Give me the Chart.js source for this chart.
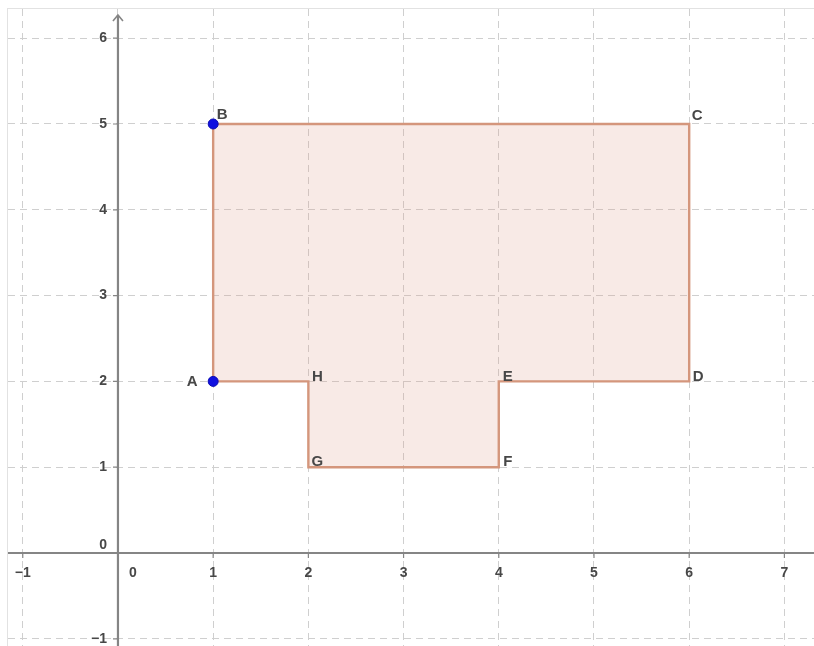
<!DOCTYPE html>
<html>
<head>
<meta charset="utf-8">
<script src="https://cdn.jsdelivr.net/npm/chart.js@4.4.1/dist/chart.umd.min.js"></script>
<style>
  html, body { margin: 0; padding: 0; background: #fff; }
  #frame { position: absolute; left: 7px; top: 8px; width: 807px; height: 638px;
           border-left: 1px solid #e2e2e2; border-top: 1px solid #e2e2e2; }
  #plot { position: absolute; left: 0; top: 0; }
</style>
</head>
<body>
<div id="frame"><canvas id="plot" width="806" height="637"></canvas></div>
<script>
/* ── Données ── */
const xTicks = [-1, 0, 1, 2, 3, 4, 5, 6, 7];
const yTicks = [-1, 0, 1, 2, 3, 4, 5, 6];
const vertexNames = ['A', 'B', 'C', 'D', 'E', 'F', 'G', 'H'];
const vertexX     = [1, 1, 6, 6, 4, 4, 2, 2];
const vertexY     = [2, 5, 5, 2, 2, 1, 1, 2];
const freePoints  = ['A', 'B'];

// ── Fenêtre (unités) ──
const X_MIN = -1.155, X_MAX = 7.311;
const Y_MIN = -1.084, Y_MAX = 6.34;

const polyData = vertexNames.map((n, i) => ({ x: vertexX[i], y: vertexY[i] }));
polyData.push({ x: vertexX[0], y: vertexY[0] });   // ferme le polygone

const pointData = freePoints.map(n => {
  const i = vertexNames.indexOf(n);
  return { x: vertexX[i], y: vertexY[i] };
});

// décalage des étiquettes (px)
const labelOffset = { A: [-21, 0], B: [9, -9], C: [8, -8] };

const AXIS_COLOR = '#858585';
const TEXT_COLOR = '#474747';

// ── Axes, graduations, étiquettes ──
const geoPlugin = {
  id: 'geo',
  afterDatasetsDraw(chart) {
    const { ctx, scales: { x, y }, chartArea: a } = chart;
    const x0 = x.getPixelForValue(0);
    const y0 = y.getPixelForValue(0);
    ctx.save();

    // axes
    ctx.strokeStyle = AXIS_COLOR;
    ctx.lineWidth = 2.2;
    ctx.beginPath();
    ctx.moveTo(a.left, y0);  ctx.lineTo(a.right, y0);
    ctx.moveTo(x0, a.bottom); ctx.lineTo(x0, a.top + 6);
    ctx.stroke();
    // flèche y
    ctx.lineWidth = 1.6;
    ctx.beginPath();
    ctx.moveTo(x0 - 5, a.top + 12); ctx.lineTo(x0, a.top + 6); ctx.lineTo(x0 + 5, a.top + 12);
    ctx.stroke();

    // petites graduations
    ctx.lineWidth = 1.2;
    ctx.beginPath();
    xTicks.forEach(v => { if (v !== 0) { const px = x.getPixelForValue(v); ctx.moveTo(px, y0); ctx.lineTo(px, y0 + 5); } });
    yTicks.forEach(v => { if (v !== 0) { const py = y.getPixelForValue(v); ctx.moveTo(x0, py); ctx.lineTo(x0 - 5, py); } });
    ctx.stroke();

    // étiquettes des axes
    ctx.fillStyle = TEXT_COLOR;
    ctx.font = 'bold 14px "Liberation Sans", Arial, sans-serif';
    ctx.textBaseline = 'middle';
    ctx.textAlign = 'center';
    xTicks.forEach(v => {
      const px = x.getPixelForValue(v) + (v === 0 ? 15 : 0);
      ctx.fillText(String(v).replace('-', '\u2212'), px, y0 + 20);
    });
    ctx.textAlign = 'right';
    yTicks.forEach(v => {
      const py = y.getPixelForValue(v) - (v === 0 ? 8 : 0);
      ctx.fillText(String(v).replace('-', '\u2212'), x0 - 11, py);
    });

    // noms des sommets
    ctx.textAlign = 'center';
    ctx.font = 'bold 15px "Liberation Sans", Arial, sans-serif';
    vertexNames.forEach((n, i) => {
      const off = labelOffset[n] || [9, -5];
      ctx.fillText(n, x.getPixelForValue(vertexX[i]) + off[0], y.getPixelForValue(vertexY[i]) + off[1]);
    });
    ctx.restore();
  },
};

function integerTicks(list) {
  return scale => { scale.ticks = list.map(v => ({ value: v })); };
}

new Chart(document.getElementById('plot'), {
  type: 'scatter',
  data: {
    datasets: [
      {
        data: polyData,
        showLine: true,
        fill: 'shape',
        borderColor: '#d4967c',
        backgroundColor: 'rgba(222, 160, 140, 0.22)',
        borderWidth: 2.4,
        pointRadius: 0,
        tension: 0,
        order: 2,
      },
      {
        data: pointData,
        showLine: false,
        pointRadius: 5,
        pointBackgroundColor: '#1010e0',
        pointBorderColor: '#0c0cb0',
        pointBorderWidth: 1,
        order: 1,
      },
    ],
  },
  options: {
    responsive: false,
    animation: false,
    devicePixelRatio: 1,
    layout: { padding: 0, autoPadding: false },
    plugins: { legend: { display: false }, tooltip: { enabled: false } },
    scales: {
      x: {
        type: 'linear', min: X_MIN, max: X_MAX,
        afterBuildTicks: integerTicks(xTicks),
        afterFit: s => { s.height = 0; },
        ticks: { display: false },
        grid: { color: '#cfcfcf', lineWidth: 1, drawTicks: false },
        border: { display: false, dash: [7, 5] },
      },
      y: {
        type: 'linear', min: Y_MIN, max: Y_MAX,
        afterBuildTicks: integerTicks(yTicks),
        afterFit: s => { s.width = 0; },
        ticks: { display: false },
        grid: { color: '#cfcfcf', lineWidth: 1, drawTicks: false },
        border: { display: false, dash: [7, 5] },
      },
    },
  },
  plugins: [geoPlugin],
});
</script>
</body>
</html>
